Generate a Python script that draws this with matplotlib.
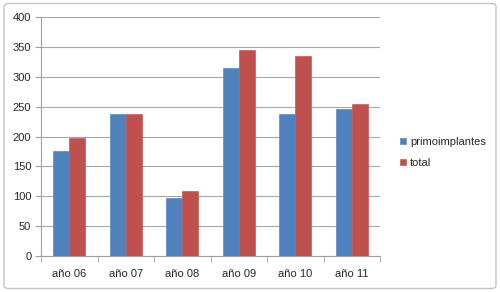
import matplotlib
matplotlib.use('Agg')
import matplotlib.pyplot as plt
from matplotlib.patches import FancyBboxPatch
import numpy as np

categories = ["año 06", "año 07", "año 08", "año 09", "año 10", "año 11"]
primoimplantes = [176, 237, 97, 314, 237, 246]
total = [197, 237, 109, 344, 334, 255]
yticks = [0, 50, 100, 150, 200, 250, 300, 350, 400]

plt.rcParams['font.family'] = ['Liberation Sans', 'DejaVu Sans']

fig = plt.figure(figsize=(5.0, 2.92), dpi=100)
fig.patches.append(FancyBboxPatch((0.008, 0.012), 0.984, 0.976,
                                  boxstyle="round,pad=0,rounding_size=0.01",
                                  transform=fig.transFigure, fill=False,
                                  edgecolor="#c4c4c4", linewidth=1.0))
ax = fig.add_axes([0.082, 0.123, 0.678, 0.819])

x = np.arange(len(categories))
w = 0.285
ax.bar(x - w / 2, primoimplantes, w, color="#4f81bd", edgecolor="#5a8ac4",
       linewidth=0.5, label="primoimplantes", zorder=3)
ax.bar(x + w / 2, total, w, color="#c0504d", edgecolor="#c85b58",
       linewidth=0.5, label="total", zorder=3)

ax.set_xlim(-0.5, len(categories) - 0.5)
ax.set_ylim(0, 400)
ax.set_yticks(yticks)
ax.set_xticks(x)
ax.set_xticklabels(categories)
ax.set_xticks(np.arange(-0.5, len(categories)), minor=True)
ax.tick_params(axis='x', which='major', length=0, pad=9, labelsize=8, colors="#262626")
ax.tick_params(axis='x', which='minor', length=4, color="#a0a0a0", direction='out')
ax.tick_params(axis='y', length=4, color="#a0a0a0", labelsize=8, pad=3)
ax.tick_params(axis='y', labelcolor="#262626")

ax.grid(axis='y', color="#a6a6a6", linewidth=0.8, zorder=0)
for side in ("top", "right"):
    ax.spines[side].set_visible(False)
for side in ("left", "bottom"):
    ax.spines[side].set_color("#a0a0a0")
    ax.spines[side].set_linewidth(0.8)

fig.legend(loc="center left", bbox_to_anchor=(0.78, 0.478), frameon=False,
           fontsize=8, handlelength=0.5, handleheight=0.5, handletextpad=0.4,
           labelspacing=0.95, labelcolor="#262626")

fig.savefig("out.png", dpi=100)
